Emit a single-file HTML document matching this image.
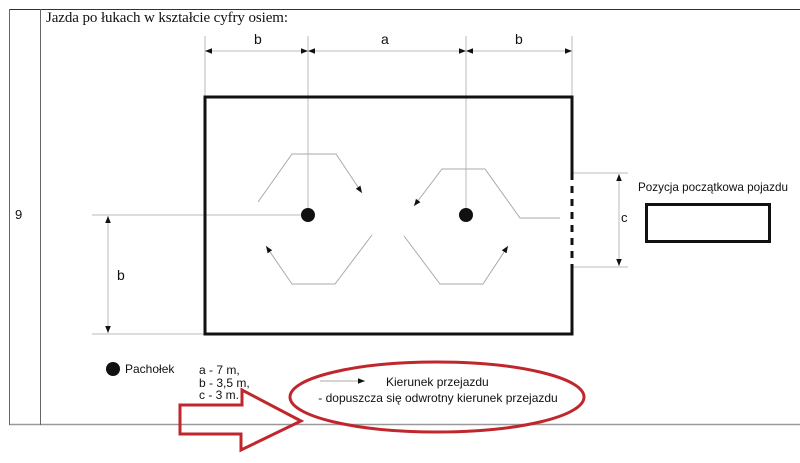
<!DOCTYPE html>
<html><head><meta charset="utf-8"><style>
html,body{margin:0;padding:0;background:#fff;}
svg{display:block;}
text{font-family:"Liberation Sans",sans-serif;fill:#111;}
</style></head><body>
<svg width="800" height="463" viewBox="0 0 800 463" xmlns="http://www.w3.org/2000/svg">
<defs>
<marker id="ah" viewBox="0 0 10 10" refX="10" refY="5" markerWidth="7" markerHeight="7" orient="auto-start-reverse" markerUnits="userSpaceOnUse"><path d="M0,1 L10,5 L0,9 z" fill="#111"/></marker>
</defs>
<line x1="9" y1="9.5" x2="800" y2="9.5" stroke="#333" stroke-width="1"/>
<line x1="9" y1="424.5" x2="800" y2="424.5" stroke="#999" stroke-width="1.5"/>
<line x1="9.5" y1="9" x2="9.5" y2="425" stroke="#666" stroke-width="1"/>
<line x1="40.5" y1="9" x2="40.5" y2="425" stroke="#666" stroke-width="1"/>
<text x="15" y="219" font-size="13">9</text>
<text x="46" y="22" font-size="15" textLength="242" style="font-family:'Liberation Serif',serif">Jazda po łukach w kształcie cyfry osiem:</text>

<g stroke="#bbb" stroke-width="1">
<line x1="205" y1="36" x2="205" y2="97"/>
<line x1="308" y1="36" x2="308" y2="215"/>
<line x1="466" y1="36" x2="466" y2="215"/>
<line x1="572" y1="36" x2="572" y2="97"/>
<line x1="92" y1="215" x2="308" y2="215"/>
<line x1="92" y1="334" x2="205" y2="334"/>
<line x1="572" y1="173" x2="628" y2="173"/>
<line x1="572" y1="267" x2="628" y2="267"/>
</g>
<g stroke="#bbb" stroke-width="1" marker-start="url(#ah)" marker-end="url(#ah)">
<line x1="205" y1="51" x2="308" y2="51"/>
<line x1="308" y1="51" x2="466" y2="51"/>
<line x1="466" y1="51" x2="572" y2="51"/>
<line x1="108" y1="216" x2="108" y2="333"/>
<line x1="619" y1="174" x2="619" y2="266"/>
</g>
<text x="254" y="44" font-size="14">b</text>
<text x="381" y="44" font-size="14">a</text>
<text x="515" y="44" font-size="14">b</text>
<text x="117" y="280" font-size="14">b</text>
<text x="621" y="222" font-size="13">c</text>

<path d="M572,173 L572,97 L205,97 L205,334 L572,334 L572,265" fill="none" stroke="#111" stroke-width="3"/>
<line x1="572" y1="173" x2="572" y2="265" stroke="#111" stroke-width="3" stroke-dasharray="7,6"/>

<g stroke="#aaa" stroke-width="1" fill="none">
<path d="M258,202 L292,154 L336,154 L362,193" marker-end="url(#ah)"/>
<path d="M372,235 L335,284 L292,284 L266,246" marker-end="url(#ah)"/>
<path d="M560,218 L520,218 L485,169 L442,169 L414,206" marker-end="url(#ah)"/>
<path d="M404,236 L440,284 L483,284 L508,246" marker-end="url(#ah)"/>
</g>
<circle cx="308" cy="215" r="7" fill="#111"/>
<circle cx="466" cy="215" r="7" fill="#111"/>

<text x="638" y="191" font-size="12" textLength="150" lengthAdjust="spacingAndGlyphs">Pozycja początkowa pojazdu</text>
<rect x="646.5" y="204.5" width="123" height="37" fill="none" stroke="#111" stroke-width="3"/>

<circle cx="113" cy="369" r="7" fill="#111"/>
<text x="125" y="373" font-size="12">Pachołek</text>
<text x="199" y="374" font-size="12">a - 7 m,</text>
<text x="199" y="387" font-size="12">b - 3,5 m,</text>
<text x="199" y="399" font-size="12">c - 3 m.</text>

<ellipse cx="437" cy="397" rx="147" ry="35" fill="none" stroke="#c0272d" stroke-width="3"/>
<line x1="320" y1="381" x2="365" y2="381" stroke="#aaa" stroke-width="1" marker-end="url(#ah)"/>
<text x="386" y="386" font-size="12">Kierunek przejazdu</text>
<text x="438" y="402" font-size="12" text-anchor="middle">- dopuszcza się odwrotny kierunek przejazdu</text>

<path d="M180,405 L242,405 L242,390 L301,421 L241,450 L241,434 L180,434 Z" fill="none" stroke="#c0272d" stroke-width="3" stroke-linejoin="miter"/>
</svg>
</body></html>
